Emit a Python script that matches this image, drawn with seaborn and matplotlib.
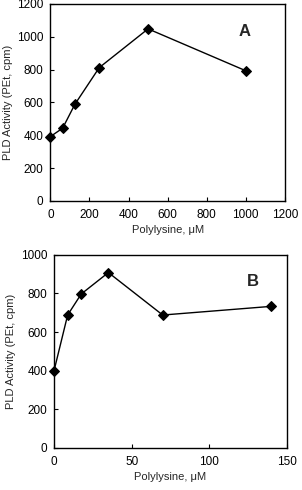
import seaborn as sns
import matplotlib.pyplot as plt

# Panel A: polylysine up to 1000 uM
conc_a = [0, 62.5, 125, 250, 500, 1000]
pld_a = [392, 443, 588, 812, 1048, 793]

# Panel B: polylysine up to 140 uM
conc_b = [0, 8.75, 17.5, 35, 70, 140]
pld_b = [400, 688, 797, 908, 688, 733]

sns.set_style('ticks')
plt.rcParams['font.family'] = ['Liberation Sans', 'DejaVu Sans']

fig = plt.figure(figsize=(3.02, 4.9), dpi=100)
ax_a = fig.add_axes([0.167, 0.590, 0.776, 0.402])
ax_b = fig.add_axes([0.179, 0.086, 0.771, 0.394])

panels = [
    (ax_a, conc_a, pld_a, 'A', (0, 1200), [0, 200, 400, 600, 800, 1000, 1200], (0, 1200), 0.83),
    (ax_b, conc_b, pld_b, 'B', (0, 150), [0, 50, 100, 150], (0, 1000), 0.855),
]

for ax, x, y, letter, xlim, xticks, ylim, lx in panels:
    sns.lineplot(x=x, y=y, ax=ax, color='black', marker='D', markersize=5,
                 markeredgecolor='black', linewidth=1, clip_on=False)
    ax.set_xlim(*xlim)
    ax.set_ylim(*ylim)
    ax.set_xticks(xticks)
    ax.set_yticks(range(0, ylim[1] + 1, 200))
    ax.tick_params(direction='in', length=3, width=0.8, labelsize=8.5, colors='black')
    ax.tick_params(axis='x', pad=6)
    ax.tick_params(axis='y', pad=5)
    for s in ax.spines.values():
        s.set_visible(True)
        s.set_linewidth(1)
        s.set_color('black')
    ax.set_xlabel('Polylysine, \u03bcM', fontsize=8, labelpad=3)
    ax.set_ylabel('PLD Activity (PEt, cpm)', fontsize=8, labelpad=3)
    ax.text(lx, 0.86, letter, transform=ax.transAxes, fontsize=12,
            fontweight='bold', ha='center', va='center')

fig.savefig('out.png', dpi=100)
